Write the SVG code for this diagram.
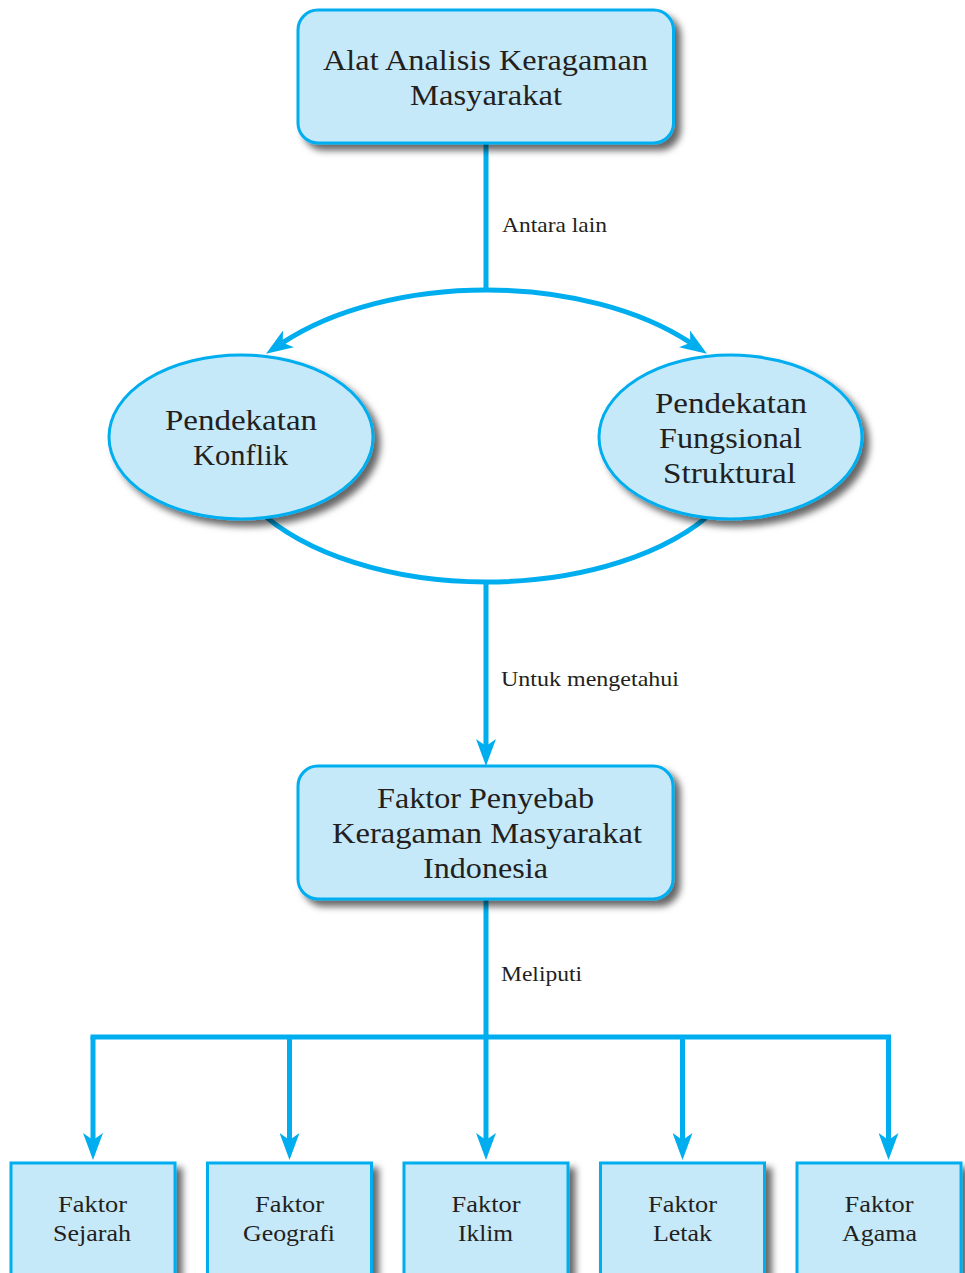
<svg xmlns="http://www.w3.org/2000/svg" width="965" height="1273" viewBox="0 0 965 1273">
  <style>
    .node { fill: #c6e9f9; stroke: #00aeef; stroke-width: 3; filter: url(#shadow); }
    .edge { fill: none; stroke: #00aeef; stroke-width: 5; }
    text { font-family: "Liberation Serif", "Times New Roman", serif; fill: #231f20; text-anchor: middle; }
    .big { font-size: 30px; }
    .small { font-size: 23px; }
    .label { font-size: 21px; text-anchor: start; }
  </style>
  <defs>
    <filter id="shadow" x="-10%" y="-10%" width="130%" height="140%">
      <feDropShadow dx="6" dy="6" stdDeviation="3.5" flood-color="#000" flood-opacity="0.6"/>
    </filter>
    <marker id="arrow" markerUnits="userSpaceOnUse" viewBox="0 -10 27 20" markerWidth="27" markerHeight="20" refX="7" refY="0" orient="auto">
      <path d="M27,0 L0,-10 L7,0 L0,10 Z" fill="#00aeef"/>
    </marker>
  </defs>

  <!-- connectors -->
  <g id="connectors">
    <line class="edge" x1="486" y1="143" x2="486" y2="292"/>
    <path class="edge" d="M486.5,290 A265,146 0 0,0 282.7,342.7" marker-end="url(#arrow)"/>
    <path class="edge" d="M486.5,290 A265,146 0 0,1 690.3,342.7" marker-end="url(#arrow)"/>
    <path class="edge" d="M257,509 A265,146 0 0,0 716,509"/>
    <line class="edge" x1="486" y1="580" x2="486" y2="746" marker-end="url(#arrow)"/>
    <line class="edge" x1="486" y1="899" x2="486" y2="1037"/>
    <line class="edge" x1="93" y1="1037" x2="888.5" y2="1037" stroke-linecap="square"/>
    <line class="edge" x1="93" y1="1037" x2="93" y2="1140" marker-end="url(#arrow)"/>
    <line class="edge" x1="289.5" y1="1037" x2="289.5" y2="1140" marker-end="url(#arrow)"/>
    <line class="edge" x1="486" y1="1037" x2="486" y2="1140" marker-end="url(#arrow)"/>
    <line class="edge" x1="682.5" y1="1037" x2="682.5" y2="1140" marker-end="url(#arrow)"/>
    <line class="edge" x1="888.5" y1="1037" x2="888.5" y2="1140" marker-end="url(#arrow)"/>
  </g>

  <!-- connector labels -->
  <g id="edge-labels">
    <text class="label" x="502" y="232" textLength="105" lengthAdjust="spacingAndGlyphs">Antara lain</text>
    <text class="label" x="501" y="686" textLength="178" lengthAdjust="spacingAndGlyphs">Untuk mengetahui</text>
    <text class="label" x="501" y="981" textLength="81" lengthAdjust="spacingAndGlyphs">Meliputi</text>
  </g>

  <g id="alat-analisis">
    <rect class="node" x="298" y="10" width="375.5" height="133" rx="20"/>
    <text class="big" x="485.5" y="70" textLength="325" lengthAdjust="spacingAndGlyphs">Alat Analisis Keragaman</text>
    <text class="big" x="486" y="105" textLength="152" lengthAdjust="spacingAndGlyphs">Masyarakat</text>
  </g>

  <g id="pendekatan-konflik">
    <ellipse class="node" cx="241" cy="437" rx="132" ry="82"/>
    <text class="big" x="241" y="430" textLength="152" lengthAdjust="spacingAndGlyphs">Pendekatan</text>
    <text class="big" x="240.5" y="465" textLength="95" lengthAdjust="spacingAndGlyphs">Konflik</text>
  </g>

  <g id="pendekatan-fungsional">
    <ellipse class="node" cx="730.5" cy="437" rx="131.5" ry="82"/>
    <text class="big" x="731" y="413" textLength="152" lengthAdjust="spacingAndGlyphs">Pendekatan</text>
    <text class="big" x="730.5" y="448" textLength="143" lengthAdjust="spacingAndGlyphs">Fungsional</text>
    <text class="big" x="729.5" y="483" textLength="133" lengthAdjust="spacingAndGlyphs">Struktural</text>
  </g>

  <g id="faktor-penyebab">
    <rect class="node" x="298" y="766" width="375" height="133" rx="20"/>
    <text class="big" x="485.5" y="808" textLength="217" lengthAdjust="spacingAndGlyphs">Faktor Penyebab</text>
    <text class="big" x="487" y="843" textLength="310" lengthAdjust="spacingAndGlyphs">Keragaman Masyarakat</text>
    <text class="big" x="485.5" y="878" textLength="125" lengthAdjust="spacingAndGlyphs">Indonesia</text>
  </g>

  <g id="faktor-sejarah">
    <rect class="node" x="11" y="1163" width="164" height="130"/>
    <text class="small" x="92.5" y="1212" textLength="69" lengthAdjust="spacingAndGlyphs">Faktor</text>
    <text class="small" x="92" y="1241" textLength="78" lengthAdjust="spacingAndGlyphs">Sejarah</text>
  </g>

  <g id="faktor-geografi">
    <rect class="node" x="207.5" y="1163" width="164" height="130"/>
    <text class="small" x="289.5" y="1212" textLength="69" lengthAdjust="spacingAndGlyphs">Faktor</text>
    <text class="small" x="289" y="1241" textLength="92" lengthAdjust="spacingAndGlyphs">Geografi</text>
  </g>

  <g id="faktor-iklim">
    <rect class="node" x="404" y="1163" width="164" height="130"/>
    <text class="small" x="486" y="1212" textLength="69" lengthAdjust="spacingAndGlyphs">Faktor</text>
    <text class="small" x="485.5" y="1241" textLength="55" lengthAdjust="spacingAndGlyphs">Iklim</text>
  </g>

  <g id="faktor-letak">
    <rect class="node" x="600.5" y="1163" width="164" height="130"/>
    <text class="small" x="682.5" y="1212" textLength="69" lengthAdjust="spacingAndGlyphs">Faktor</text>
    <text class="small" x="682.5" y="1241" textLength="59" lengthAdjust="spacingAndGlyphs">Letak</text>
  </g>

  <g id="faktor-agama">
    <rect class="node" x="797" y="1163" width="164" height="130"/>
    <text class="small" x="879" y="1212" textLength="69" lengthAdjust="spacingAndGlyphs">Faktor</text>
    <text class="small" x="879.5" y="1241" textLength="75" lengthAdjust="spacingAndGlyphs">Agama</text>
  </g>
</svg>
